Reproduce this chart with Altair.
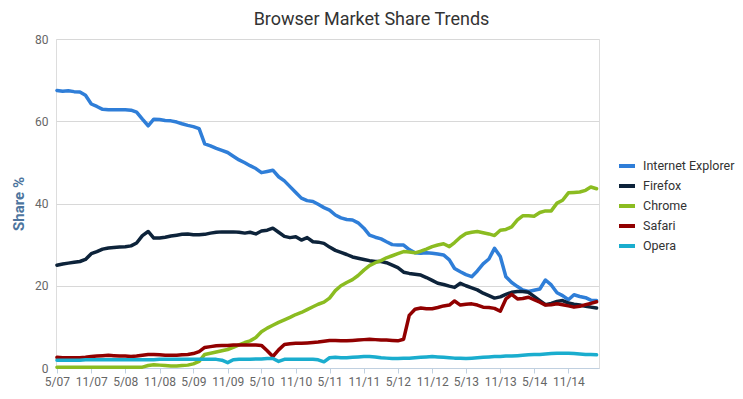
import altair as alt
import pandas as pd

months = [d.strftime("%Y-%m-01T00:00") for d in pd.date_range("2007-05-01", "2015-04-01", freq="MS")]

series_names = ["Internet Explorer", "Firefox", "Chrome", "Safari", "Opera"]
series_colors = ["#2f7ed8", "#0d233a", "#8bbc21", "#910000", "#1aadce"]

ie = [67.5, 67.3, 67.4, 67.2, 67.1, 66.3, 64.2, 63.6, 62.9, 62.8, 62.8, 62.8,
      62.8, 62.7, 62.2, 60.5, 58.9, 60.5, 60.4, 60.2, 60.1, 59.8, 59.4, 59.0,
      58.7, 58.2, 54.5, 54.0, 53.4, 52.9, 52.4, 51.5, 50.6, 49.9, 49.2, 48.5,
      47.5, 47.8, 48.1, 46.5, 45.5, 44.1, 42.7, 41.3, 40.7, 40.5, 39.8, 39.0,
      38.4, 37.2, 36.5, 36.1, 36.0, 35.3, 34.0, 32.3, 31.8, 31.4, 30.7, 30.0,
      29.9, 29.9, 28.8, 28.0, 27.9, 28.0, 27.9, 27.7, 27.5, 26.3, 24.2, 23.4,
      22.7, 22.2, 23.6, 25.3, 26.5, 29.1, 27.1, 22.2, 20.8, 19.8, 19.0, 18.6,
      18.9, 19.2, 21.4, 20.2, 18.3, 17.6, 16.6, 17.8, 17.4, 17.1, 16.5, 16.4]

firefox = [25.0, 25.3, 25.5, 25.7, 25.9, 26.4, 27.8, 28.3, 28.9, 29.2, 29.3, 29.4,
           29.5, 29.7, 30.4, 32.2, 33.2, 31.6, 31.6, 31.8, 32.1, 32.3, 32.5, 32.6,
           32.4, 32.4, 32.5, 32.8, 33.0, 33.1, 33.1, 33.1, 33.0, 32.8, 33.0, 32.6,
           33.3, 33.5, 34.0, 33.0, 32.0, 31.7, 31.9, 31.1, 31.7, 30.7, 30.6, 30.3,
           29.4, 28.6, 28.1, 27.6, 27.0, 26.7, 26.4, 26.1, 25.9, 25.9, 25.6, 25.0,
           24.4, 23.3, 23.0, 22.8, 22.6, 22.0, 21.3, 20.6, 20.3, 19.9, 19.6, 20.6,
           20.0, 19.5, 19.0, 18.2, 17.6, 17.0, 17.3, 17.9, 18.4, 18.6, 18.6, 18.4,
           17.4, 16.4, 15.4, 15.7, 16.2, 16.4, 15.8, 15.5, 15.3, 15.0, 14.8, 14.6]

chrome = [0.2, 0.2, 0.2, 0.2, 0.2, 0.2, 0.2, 0.2, 0.2, 0.2, 0.2, 0.2,
          0.2, 0.2, 0.2, 0.2, 0.6, 0.8, 0.7, 0.6, 0.5, 0.5, 0.6, 0.7,
          1.0, 1.6, 3.3, 3.6, 3.9, 4.2, 4.5, 5.0, 5.6, 6.2, 6.6, 7.4,
          8.8, 9.7, 10.4, 11.1, 11.7, 12.3, 13.0, 13.5, 14.2, 14.9, 15.5, 16.0,
          17.0, 18.8, 20.0, 20.8, 21.5, 22.5, 23.8, 24.9, 25.6, 26.1, 26.8, 27.3,
          27.8, 28.3, 28.2, 28.0, 28.4, 28.9, 29.5, 29.9, 30.2, 29.5, 30.5, 31.8,
          32.7, 33.0, 33.2, 32.9, 32.6, 32.2, 33.5, 33.7, 34.3, 36.0, 37.0, 37.0,
          36.9, 37.8, 38.2, 38.2, 40.1, 40.8, 42.6, 42.7, 42.8, 43.2, 44.0, 43.6]

safari = [2.6, 2.5, 2.5, 2.5, 2.5, 2.6, 2.8, 2.9, 3.0, 3.1, 3.0, 2.9,
          2.9, 2.8, 2.9, 3.1, 3.3, 3.3, 3.2, 3.1, 3.1, 3.1, 3.2, 3.3,
          3.5, 4.0, 5.0, 5.2, 5.4, 5.5, 5.5, 5.6, 5.6, 5.6, 5.6, 5.6,
          5.5, 4.2, 2.8, 4.4, 5.7, 5.9, 6.0, 6.0, 6.1, 6.2, 6.3, 6.5,
          6.7, 6.7, 6.6, 6.6, 6.7, 6.8, 6.9, 7.0, 6.9, 6.8, 6.8, 6.7,
          6.6, 7.0, 12.8, 14.3, 14.6, 14.4, 14.4, 14.7, 15.1, 15.3, 16.3, 15.3,
          15.5, 15.6, 15.3, 14.8, 14.7, 14.5, 13.8, 16.8, 17.9, 16.8, 16.9, 17.2,
          16.6, 16.0, 15.3, 15.4, 15.6, 15.4, 15.1, 14.8, 15.0, 15.4, 15.7, 16.1]

opera = [1.9, 1.9, 1.9, 1.9, 1.9, 2.0, 2.0, 2.0, 2.0, 2.0, 2.0, 2.0,
         2.0, 2.0, 2.0, 2.0, 2.0, 2.0, 2.1, 2.1, 2.1, 2.1, 2.1, 2.1,
         2.1, 2.1, 2.1, 2.1, 2.1, 1.9, 1.3, 2.0, 2.1, 2.1, 2.1, 2.2,
         2.2, 2.3, 2.3, 1.6, 2.1, 2.1, 2.1, 2.1, 2.1, 2.1, 2.0, 1.5,
         2.5, 2.6, 2.5, 2.5, 2.6, 2.7, 2.8, 2.8, 2.7, 2.5, 2.4, 2.3,
         2.3, 2.4, 2.4, 2.5, 2.6, 2.7, 2.8, 2.7, 2.6, 2.5, 2.4, 2.4,
         2.3, 2.4, 2.5, 2.6, 2.7, 2.8, 2.8, 2.9, 2.9, 3.0, 3.1, 3.2,
         3.3, 3.3, 3.4, 3.5, 3.6, 3.6, 3.6, 3.5, 3.4, 3.3, 3.3, 3.2]

y_ticks = [0, 20, 40, 60, 80]
x_tick_dates = [(y, m) for y in range(2007, 2015) for m in (5, 11)]

rows = []
for name, vals in zip(series_names, [ie, firefox, chrome, safari, opera]):
    for m, v in zip(months, vals):
        rows.append({"month": m, "share": v, "browser": name})
df = pd.DataFrame(rows)

FONT = "Roboto"

chart = alt.Chart(df).mark_line(strokeWidth=3.5, strokeJoin="round", strokeCap="round").encode(
    x=alt.X(
        "month:T",
        scale=alt.Scale(domain=[alt.DateTime(year=2007, month=4, date=26),
                                alt.DateTime(year=2015, month=4, date=14)]),
        axis=alt.Axis(
            title=None,
            values=[alt.DateTime(year=y, month=m, date=1) for y, m in x_tick_dates],
            format="%-m/%y",
            labelColor="#666666",
            labelFontSize=12,
            labelFont=FONT,
            domainColor="#C0D0E0",
            tickColor="#C0D0E0",
            tickSize=5,
            labelPadding=3,
            grid=False,
            labelFlush=False,
            labelOverlap=False,
        ),
    ),
    y=alt.Y(
        "share:Q",
        scale=alt.Scale(domain=[0, 80], nice=False),
        axis=alt.Axis(
            title="Share %",
            values=y_ticks,
            titleColor="#4d759e",
            titleFontSize=15,
            titleFont=FONT,
            titleFontWeight="bold",
            titlePadding=8,
            labelColor="#666666",
            labelFontSize=12,
            labelFont=FONT,
            labelPadding=8,
            tickSize=0,
            domain=False,
            gridColor="#d8d8d8",
            gridWidth=1,
        ),
    ),
    color=alt.Color(
        "browser:N",
        scale=alt.Scale(domain=series_names, range=series_colors),
        legend=alt.Legend(
            title=None,
            orient="none",
            legendX=561,
            legendY=117,
            symbolType="stroke",
            symbolSize=256,
            symbolStrokeWidth=4,
            labelFont=FONT,
            labelFontSize=12.5,
            labelColor="#333333",
            labelOffset=6,
            rowPadding=2,
            padding=0,
        ),
    ),
    order=alt.Order("month:T"),
    detail="browser:N",
).properties(
    width=543,
    height=329,
    title=alt.TitleParams(
        "Browser Market Share Trends",
        font=FONT,
        fontSize=18,
        fontWeight="normal",
        color="#333333",
        anchor="middle",
        dx=44,
        offset=4,
    ),
    padding={"left": 48, "top": 31, "right": 136, "bottom": 23},
    autosize=alt.AutoSizeParams(type="none"),
).configure_view(stroke=None).configure(background="white")

chart.save("out.html", embed_options={"renderer": "svg", "actions": False})
